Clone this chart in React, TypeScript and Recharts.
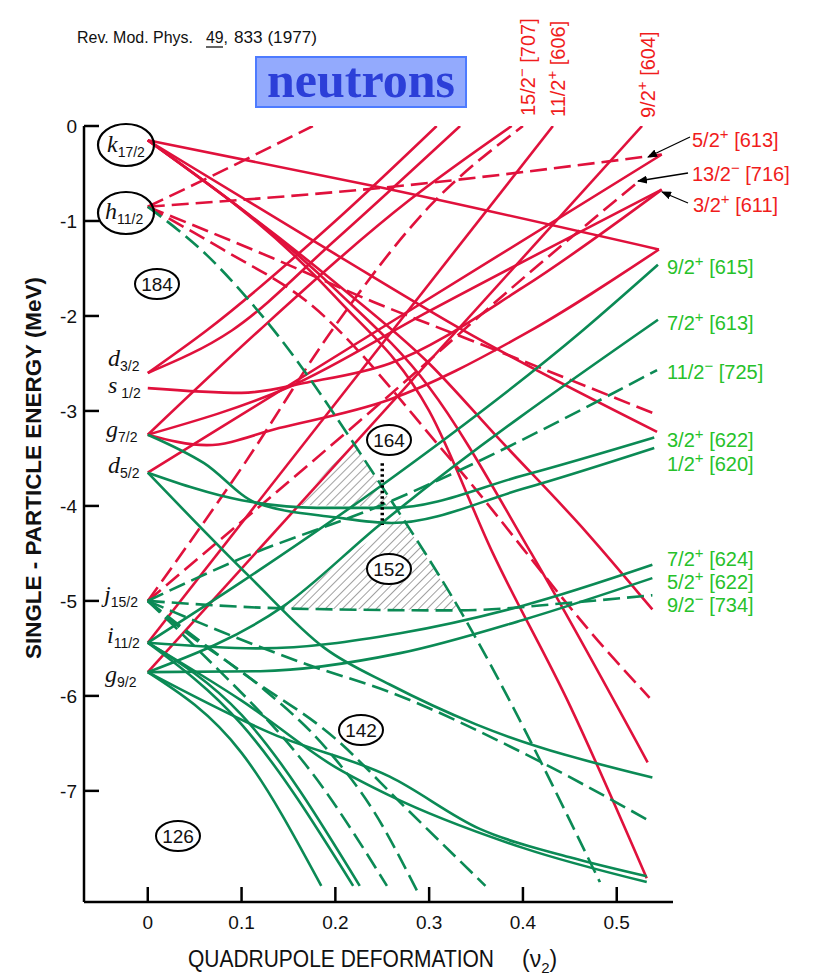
import { ComposedChart, Line, Area, XAxis, YAxis } from 'recharts';

type Pt = [number, number];

// deformation ticks / energy ticks
const xTicks = [0, 0.1, 0.2, 0.3, 0.4, 0.5];
const yTicks = [0, -1, -2, -3, -4, -5, -6, -7];

// ---- red orbitals (upper part) ----
const k17a: Pt[] = [[0, -0.15], [0.25, -0.65], [0.545, -1.3]];
const k17b: Pt[] = [[0, -0.15], [0.2, -1.35], [0.336, -2.15], [0.543, -3.22]];
const k17c: Pt[] = [[0, -0.15], [0.2, -1.65], [0.3, -2.5], [0.375, -3.3], [0.468, -4.28], [0.538, -5.09]];
const k17d: Pt[] = [[0, -0.15], [0.2, -1.72], [0.3, -2.75], [0.409, -4.5], [0.533, -6.7]];
const k17e: Pt[] = [[0, -0.15], [0.2, -1.8], [0.3, -3.0], [0.368, -4.5], [0.45, -6.1], [0.532, -7.92]];
const h11a: Pt[] = [[0, -0.85], [0.08, -0.47], [0.176, 0]];
const h11b: Pt[] = [[0, -0.85], [0.25, -0.65], [0.548, -0.3]];
const h11c: Pt[] = [[0, -0.85], [0.133, -1.39], [0.24, -1.85], [0.343, -2.25], [0.543, -3.04]];
const h11d: Pt[] = [[0, -0.85], [0.08, -1.3], [0.17, -1.85], [0.322, -3.5], [0.489, -5.52], [0.535, -6.02]];
const d3a: Pt[] = [[0, -2.6], [0.063, -2.15], [0.2, -1.0], [0.308, 0]];
const d3b: Pt[] = [[0, -2.6], [0.09, -2.15], [0.2, -1.2], [0.333, 0]];
const s1a: Pt[] = [[0, -2.76], [0.1, -2.81], [0.17, -2.7], [0.258, -2.5], [0.4, -1.7], [0.548, -0.67]];
const g7a: Pt[] = [[0, -3.25], [0.119, -2.15], [0.279, -0.78], [0.388, 0]];
const g7b: Pt[] = [[0, -3.25], [0.15, -2.75], [0.3, -1.95], [0.548, -0.67]];
const g7c: Pt[] = [[0, -3.25], [0.063, -3.36], [0.14, -3.18], [0.258, -2.88], [0.4, -2.2], [0.545, -1.3]];
const d5a: Pt[] = [[0, -3.65], [0.247, -2.14], [0.548, -0.3]];
const j15a: Pt[] = [[0, -5.0], [0.1, -3.6], [0.2, -2.1], [0.3, -0.85], [0.4, 0]];
const j15b: Pt[] = [[0, -5.0], [0.25, -2.9], [0.404, -1.57], [0.525, -0.57]];
const i11a: Pt[] = [[0, -5.44], [0.432, 0]];
const g9a: Pt[] = [[0, -5.75], [0.527, 0]];

// ---- green orbitals (lower part) ----
const h11e: Pt[] = [[0, -0.85], [0.063, -1.36], [0.127, -2.06], [0.25, -3.8], [0.333, -5.1], [0.482, -7.96]];
const i11b: Pt[] = [[0, -5.44], [0.1, -4.8], [0.247, -3.8], [0.464, -2.15], [0.544, -1.46]];
const g9b: Pt[] = [[0, -5.75], [0.144, -5.06], [0.247, -4.2], [0.544, -2.04]];
const j15c: Pt[] = [[0, -5.0], [0.1, -4.55], [0.247, -4.0], [0.543, -2.57]];
const d5b: Pt[] = [[0, -3.65], [0.1, -3.94], [0.18, -4.02], [0.26, -4.02], [0.4, -3.68], [0.54, -3.28]];
const g7d: Pt[] = [[0, -3.25], [0.06, -3.55], [0.116, -3.97], [0.2, -4.12], [0.26, -4.18], [0.4, -3.82], [0.54, -3.39]];
const i11c: Pt[] = [[0, -5.44], [0.12, -5.5], [0.269, -5.34], [0.4, -5.05], [0.538, -4.62]];
const g9c: Pt[] = [[0, -5.75], [0.12, -5.74], [0.269, -5.55], [0.4, -5.2], [0.538, -4.76]];
const j15d: Pt[] = [[0, -5.0], [0.15, -5.08], [0.33, -5.1], [0.45, -5.02], [0.538, -4.94]];
const d5c: Pt[] = [[0, -3.65], [0.109, -4.75], [0.189, -5.5], [0.258, -5.88], [0.35, -6.3], [0.538, -6.86]];
const j15e: Pt[] = [[0, -5.0], [0.08, -5.33], [0.17, -5.67], [0.258, -5.96], [0.4, -6.6], [0.532, -7.3]];
const j15f: Pt[] = [[0, -5.0], [0.1, -5.75], [0.2, -6.45], [0.272, -7.15], [0.36, -8.0]];
const j15g: Pt[] = [[0, -5.0], [0.045, -5.43], [0.187, -6.97], [0.255, -8.0]];
const j15h: Pt[] = [[0, -5.0], [0.034, -5.28], [0.12, -5.9], [0.19, -6.55], [0.24, -7.2], [0.287, -8.05]];
const g9d: Pt[] = [[0, -5.75], [0.133, -6.4], [0.258, -6.85], [0.354, -7.4], [0.45, -7.7], [0.532, -7.9]];
const i11d: Pt[] = [[0, -5.44], [0.1, -6.05], [0.2, -6.75], [0.258, -7.05], [0.4, -7.6], [0.532, -7.96]];
const g9e: Pt[] = [[0, -5.75], [0.1, -6.6], [0.185, -8.0]];
const i11e: Pt[] = [[0, -5.44], [0.1, -6.3], [0.219, -8.0]];
const i11f: Pt[] = [[0, -5.44], [0.1, -6.2], [0.226, -8.0]];

// shaded gaps (x, lower, upper)
const gap164: [number, number, number][] = [[0.159, -3.99, -3.99], [0.218, -4.0, -3.33], [0.262, -4.0, -4.0]];
const gap152: [number, number, number][] = [[0.144, -5.08, -5.06], [0.27, -5.09, -4.11], [0.333, -5.1, -5.1]];
const dotted: Pt[] = [[0.25, -3.55], [0.25, -4.2]];

const RED = '#e0113c';
const GREEN = '#0b8a55';

const curves: { pts: Pt[]; color: string; dashed: boolean }[] = [
  { pts: k17a, color: RED, dashed: false },
  { pts: k17b, color: RED, dashed: false },
  { pts: k17c, color: RED, dashed: false },
  { pts: k17d, color: RED, dashed: false },
  { pts: k17e, color: RED, dashed: false },
  { pts: h11a, color: RED, dashed: true },
  { pts: h11b, color: RED, dashed: true },
  { pts: h11c, color: RED, dashed: true },
  { pts: h11d, color: RED, dashed: true },
  { pts: d3a, color: RED, dashed: false },
  { pts: d3b, color: RED, dashed: false },
  { pts: s1a, color: RED, dashed: false },
  { pts: g7a, color: RED, dashed: false },
  { pts: g7b, color: RED, dashed: false },
  { pts: g7c, color: RED, dashed: false },
  { pts: d5a, color: RED, dashed: false },
  { pts: j15a, color: RED, dashed: true },
  { pts: j15b, color: RED, dashed: true },
  { pts: i11a, color: RED, dashed: false },
  { pts: g9a, color: RED, dashed: false },
  { pts: h11e, color: GREEN, dashed: true },
  { pts: i11b, color: GREEN, dashed: false },
  { pts: g9b, color: GREEN, dashed: false },
  { pts: j15c, color: GREEN, dashed: true },
  { pts: d5b, color: GREEN, dashed: false },
  { pts: g7d, color: GREEN, dashed: false },
  { pts: i11c, color: GREEN, dashed: false },
  { pts: g9c, color: GREEN, dashed: false },
  { pts: j15d, color: GREEN, dashed: true },
  { pts: d5c, color: GREEN, dashed: false },
  { pts: j15e, color: GREEN, dashed: true },
  { pts: j15f, color: GREEN, dashed: true },
  { pts: j15g, color: GREEN, dashed: true },
  { pts: j15h, color: GREEN, dashed: true },
  { pts: g9d, color: GREEN, dashed: false },
  { pts: i11d, color: GREEN, dashed: false },
  { pts: g9e, color: GREEN, dashed: false },
  { pts: i11f, color: GREEN, dashed: false },
  { pts: i11e, color: GREEN, dashed: false },
];

const rows = (p: Pt[]) => p.map(([x, y]) => ({ x, y }));
const bands = (p: [number, number, number][]) => p.map(([x, lo, hi]) => ({ x, r: [lo, hi] }));

const SANS = "'Liberation Sans', Arial, sans-serif";
const LAB_RED = '#f01c1c';
const LAB_GREEN = '#26c12a';

function XTick(props: any) {
  const { x, y, payload } = props;
  return (
    <g>
      <line x1={x} y1={y} x2={x} y2={y - 15} stroke="#000" strokeWidth={2.5} />
      <text x={x} y={y + 27} textAnchor="middle" fontFamily={SANS} fontSize={19} fill="#111">
        {payload.value}
      </text>
    </g>
  );
}

function YTick(props: any) {
  const { x, y, payload } = props;
  return (
    <g>
      <line x1={x} y1={y} x2={x + 15} y2={y} stroke="#000" strokeWidth={2.5} />
      <text x={x - 7} y={y + 7} textAnchor="end" fontFamily={SANS} fontSize={19} fill="#111">
        {payload.value}
      </text>
    </g>
  );
}

function Orb({ x, y, name, sub }: { x: number; y: number; name: string; sub: string }) {
  return (
    <text x={x} y={y} fontFamily="'Liberation Serif', serif" fontStyle="italic" fontSize={24} fill="#111">
      {name}
      <tspan fontFamily={SANS} fontStyle="normal" fontSize={14} dy={5}>
        {sub}
      </tspan>
    </text>
  );
}

function Magic({ x, y, n }: { x: number; y: number; n: string }) {
  return (
    <g>
      <ellipse cx={x} cy={y} rx={22} ry={15} fill="#fff" stroke="#000" strokeWidth={2} />
      <text x={x} y={y + 7} textAnchor="middle" fontFamily={SANS} fontSize={19} fill="#111">
        {n}
      </text>
    </g>
  );
}

function QLabel({ x, y, num, sign, br, color }: { x: number; y: number; num: string; sign: string; br: string; color: string }) {
  return (
    <text x={x} y={y} fontFamily={SANS} fontSize={20} fill={color}>
      {num}
      <tspan dy={-8} fontSize={15}>
        {sign}
      </tspan>
      <tspan dy={8}>{` [${br}]`}</tspan>
    </text>
  );
}

function VLabel({ x, y, num, sign, br }: { x: number; y: number; num: string; sign: string; br: string }) {
  return (
    <text x={x} y={y} transform={`rotate(-90 ${x} ${y})`} fontFamily={SANS} fontSize={20} fill={LAB_RED}>
      {num}
      <tspan dy={-8} fontSize={15}>
        {sign}
      </tspan>
      <tspan dy={8}>{` [${br}]`}</tspan>
    </text>
  );
}

export default function App() {
  return (
    <div style={{ position: 'absolute', left: 0, top: 0, width: 817, height: 979, background: '#fff' }}>
      <ComposedChart width={817} height={979} margin={{ top: 126, right: 144, left: 54, bottom: 47 }}>
        <defs>
          <pattern id="hatch" width={6} height={6} patternUnits="userSpaceOnUse" patternTransform="rotate(45)">
            <line x1={0} y1={0} x2={0} y2={6} stroke="#444" strokeWidth={1} />
          </pattern>
        </defs>
        <XAxis
          dataKey="x"
          type="number"
          domain={[-0.068, 0.56]}
          ticks={xTicks}
          allowDataOverflow
          height={30}
          tickSize={0}
          tickMargin={0}
          tickLine={false}
          axisLine={{ stroke: '#000', strokeWidth: 2.5 }}
          tick={<XTick />}
        />
        <YAxis
          type="number"
          domain={[-8.17, 0]}
          ticks={yTicks}
          allowDataOverflow
          width={30}
          tickSize={0}
          tickMargin={0}
          tickLine={false}
          axisLine={{ stroke: '#000', strokeWidth: 2.5 }}
          tick={<YTick />}
        />
        <Area data={bands(gap164)} dataKey="r" type="linear" fill="url(#hatch)" fillOpacity={1} stroke="none" isAnimationActive={false} />
        <Area data={bands(gap152)} dataKey="r" type="linear" fill="url(#hatch)" fillOpacity={1} stroke="none" isAnimationActive={false} />
        {curves.map((c, i) => (
          <Line
            key={i}
            data={rows(c.pts)}
            dataKey="y"
            type="monotone"
            stroke={c.color}
            strokeWidth={2.6}
            strokeDasharray={c.dashed ? '17 7' : undefined}
            dot={false}
            activeDot={false}
            isAnimationActive={false}
          />
        ))}
        <Line data={rows(dotted)} dataKey="y" type="linear" stroke="#000" strokeWidth={3.5} strokeDasharray="2.5 3" dot={false} activeDot={false} isAnimationActive={false} />
      </ComposedChart>

      <svg width={817} height={979} style={{ position: 'absolute', left: 0, top: 0, pointerEvents: 'none' }}>
        <defs>
          <marker id="arr" markerWidth={10} markerHeight={8} refX={9} refY={4} orient="auto" markerUnits="userSpaceOnUse">
            <path d="M0,0 L10,4 L0,8 z" fill="#000" />
          </marker>
        </defs>
        {/* citation */}
        <text x={77} y={43} fontFamily={SANS} fontSize={17} textLength={116} lengthAdjust="spacingAndGlyphs" fill="#111">
          Rev. Mod. Phys.
        </text>
        <text x={206} y={43} fontFamily={SANS} fontSize={17} textLength={22} lengthAdjust="spacingAndGlyphs" fill="#111">
          49,
        </text>
        <line x1={206} y1={47} x2={223} y2={47} stroke="#111" strokeWidth={1.3} />
        <text x={234} y={43} fontFamily={SANS} fontSize={17} textLength={83} lengthAdjust="spacingAndGlyphs" fill="#111">
          833 (1977)
        </text>

        {/* title box */}
        <rect x={256} y={57} width={210} height={50} fill="#93aafd" stroke="#4d7bff" strokeWidth={2} />
        <text x={361} y={97} textAnchor="middle" fontFamily="'Liberation Serif', serif" fontWeight="bold" fontSize={50} fill="#2c3fd8">
          neutrons
        </text>

        {/* axis titles */}
        <text
          x={41}
          y={468}
          transform="rotate(-90 41 468)"
          textAnchor="middle"
          fontFamily={SANS}
          fontWeight="bold"
          fontSize={22}
          textLength={382}
          lengthAdjust="spacingAndGlyphs"
          fill="#111"
        >
          SINGLE - PARTICLE ENERGY  (MeV)
        </text>
        <text x={188} y={967} fontFamily={SANS} fontSize={23} textLength={306} lengthAdjust="spacingAndGlyphs" fill="#111">
          QUADRUPOLE DEFORMATION
        </text>
        <text x={522} y={967} fontFamily={SANS} fontSize={23} fill="#111">
          (ν
          <tspan fontSize={15} dy={6}>
            2
          </tspan>
          <tspan dy={-6}>)</tspan>
        </text>

        {/* spherical orbitals */}
        <ellipse cx={126} cy={145} rx={28} ry={21} fill="none" stroke="#000" strokeWidth={2.2} />
        <ellipse cx={126} cy={213} rx={28} ry={21} fill="none" stroke="#000" strokeWidth={2.2} />
        <Orb x={107} y={152} name="k" sub="17/2" />
        <Orb x={105} y={219} name="h" sub="11/2" />
        <Orb x={108} y={366} name="d" sub="3/2" />
        <Orb x={108} y={393} name="s" sub=" 1/2" />
        <Orb x={106} y={437} name="g" sub="7/2" />
        <Orb x={108} y={473} name="d" sub="5/2" />
        <Orb x={104} y={602} name="j" sub="15/2" />
        <Orb x={107} y={643} name="i" sub="11/2" />
        <Orb x={105} y={682} name="g" sub="9/2" />

        {/* shell gaps */}
        <Magic x={157} y={284} n="184" />
        <Magic x={389} y={440} n="164" />
        <Magic x={389} y={569} n="152" />
        <Magic x={361} y={730} n="142" />
        <Magic x={178} y={836} n="126" />

        {/* top labels */}
        <VLabel x={535} y={116} num="15/2" sign="−" br="707" />
        <VLabel x={565} y={117} num="11/2" sign="+" br="606" />
        <VLabel x={655} y={118} num="9/2" sign="+" br="604" />

        {/* right labels */}
        <QLabel x={692} y={147} num="5/2" sign="+" br="613" color={LAB_RED} />
        <QLabel x={692} y={181} num="13/2" sign="−" br="716" color={LAB_RED} />
        <QLabel x={693} y={212} num="3/2" sign="+" br="611" color={LAB_RED} />
        <line x1={690} y1={137} x2={648} y2={157} stroke="#000" strokeWidth={1.3} markerEnd="url(#arr)" />
        <line x1={688} y1={173} x2={638} y2={181} stroke="#000" strokeWidth={1.3} markerEnd="url(#arr)" />
        <line x1={688} y1={203} x2={662} y2={192} stroke="#000" strokeWidth={1.3} markerEnd="url(#arr)" />

        <QLabel x={667} y={274} num="9/2" sign="+" br="615" color={LAB_GREEN} />
        <QLabel x={667} y={330} num="7/2" sign="+" br="613" color={LAB_GREEN} />
        <QLabel x={667} y={379} num="11/2" sign="−" br="725" color={LAB_GREEN} />
        <QLabel x={667} y={447} num="3/2" sign="+" br="622" color={LAB_GREEN} />
        <QLabel x={667} y={471} num="1/2" sign="+" br="620" color={LAB_GREEN} />
        <QLabel x={667} y={566} num="7/2" sign="+" br="624" color={LAB_GREEN} />
        <QLabel x={667} y={589} num="5/2" sign="+" br="622" color={LAB_GREEN} />
        <QLabel x={667} y={612} num="9/2" sign="−" br="734" color={LAB_GREEN} />
      </svg>
    </div>
  );
}
